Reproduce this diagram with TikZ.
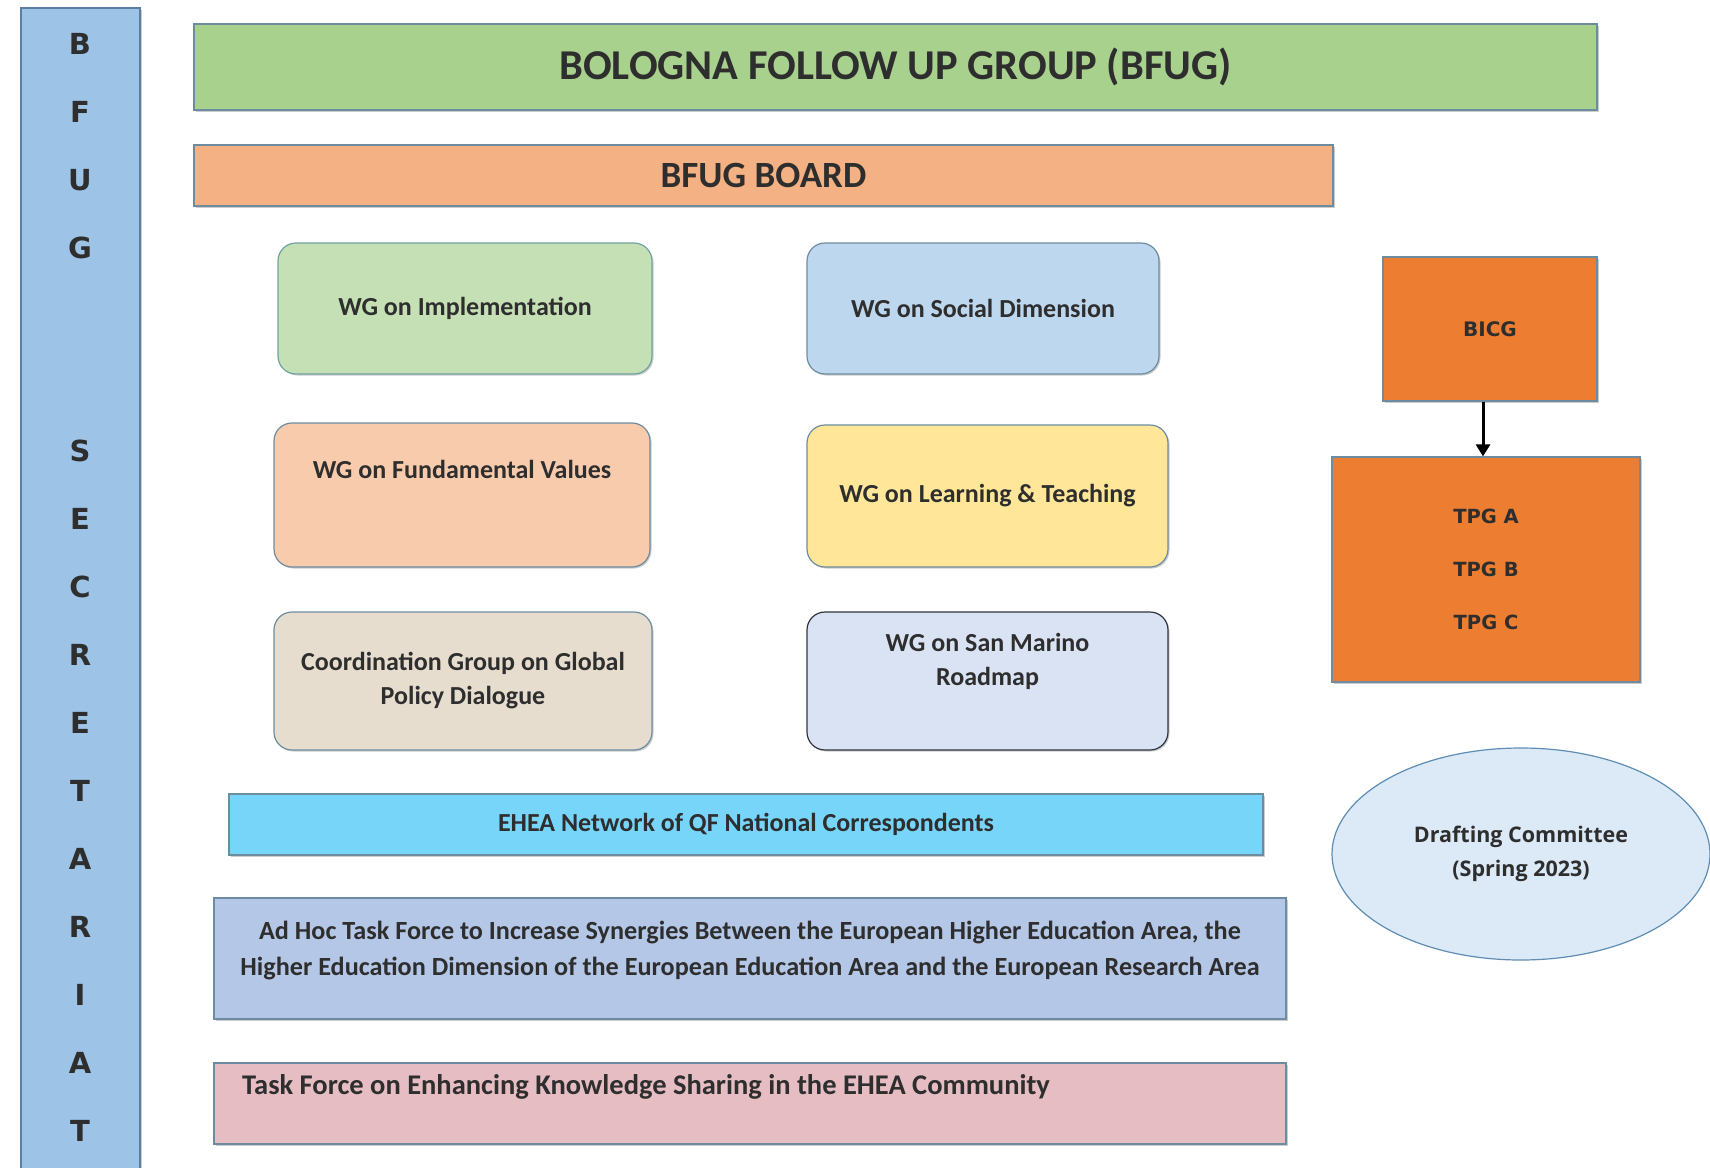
\documentclass[tikz,border=0pt]{standalone}
\usepackage{fontspec}
\setmainfont{Carlito}
\newfontfamily\verd{DejaVu Sans}
\newfontfamily\opens{Open Sans}
\usetikzlibrary{shadows,arrows.meta,shapes.geometric}
\definecolor{txt}{HTML}{2E2E2E}
\definecolor{secfill}{HTML}{9DC3E6}
\definecolor{secdraw}{HTML}{5A7FA3}
\definecolor{bfugfill}{HTML}{A9D18E}
\definecolor{boardfill}{HTML}{F4B183}
\definecolor{implfill}{HTML}{C5E0B4}
\definecolor{impldraw}{HTML}{6FA3A3}
\definecolor{socfill}{HTML}{BDD7EE}
\definecolor{fundfill}{HTML}{F8CBAD}
\definecolor{ltfill}{HTML}{FFE699}
\definecolor{coordfill}{HTML}{E6DDCF}
\definecolor{smfill}{HTML}{DAE3F3}
\definecolor{smdraw}{HTML}{2F3640}
\definecolor{orfill}{HTML}{ED7D31}
\definecolor{netfill}{HTML}{78D5FA}
\definecolor{adhocfill}{HTML}{B4C7E7}
\definecolor{tffill}{HTML}{E5BDC3}
\definecolor{draftfill}{HTML}{DCE9F6}
\definecolor{draftdraw}{HTML}{5E8DB5}
\definecolor{bdr}{HTML}{6E8CA0}
\tikzset{
  box/.style={draw=bdr, line width=1.2pt, text=txt, font=\bfseries, align=center,
    inner sep=0pt, drop shadow={shadow xshift=1.5pt, shadow yshift=-1.5pt, opacity=0.2, fill=black}},
  rbox/.style={box, rounded corners=18pt},
  lab/.style={text=txt, font=\bfseries, align=center, inner sep=0pt},
  secl/.style={text=txt, font=\verd\bfseries\fontsize{29}{29}\selectfont, inner sep=0pt},
  wgf/.style={font=\bfseries\fontsize{26}{34}\selectfont},
}
\begin{document}
\begin{tikzpicture}[x=1pt,y=-1pt]
\useasboundingbox[fill=white] (0,0) rectangle (1710,1167);
% secretariat bar
\node[box, fill=secfill, draw=secdraw, minimum width=119pt, minimum height=1172pt] (sec) at (80.5,594) {};
\foreach \ch [count=\i] in {B,F,U,G} {
  \node[secl] (s\i) at (80,{44+68*(\i-1)}) {\ch};
}
\foreach \ch [count=\i] in {S,E,C,R,E,T,A,R,I,A,T} {
  \node[secl] (t\i) at (80,{451+68*(\i-1)}) {\ch};
}
% top bars
\node[box, fill=bfugfill, minimum width=1403pt, minimum height=86pt, font=\bfseries\fontsize{42.5}{42.5}\selectfont] (bfug) at (895.5,67) {BOLOGNA FOLLOW UP GROUP (BFUG)};
\node[box, fill=boardfill, minimum width=1139pt, minimum height=61pt, font=\bfseries\fontsize{37}{37}\selectfont] (board) at (763.5,175.5) {BFUG BOARD};
% working groups
\node[rbox, fill=implfill, draw=impldraw, minimum width=374pt, minimum height=131pt, wgf] (impl) at (465,308.5) {WG on Implementation};
\node[rbox, fill=socfill, minimum width=352pt, minimum height=131pt, wgf] (soc) at (983,308.5) {WG on Social Dimension};
\node[rbox, fill=fundfill, minimum width=376pt, minimum height=144pt] (fund) at (462,495) {};
\node[lab, wgf] (fundt) at (462,469) {WG on Fundamental Values};
\node[rbox, fill=ltfill, minimum width=361pt, minimum height=142pt, wgf] (lt) at (987.5,496) {WG on Learning \& Teaching};
\node[rbox, fill=coordfill, minimum width=378pt, minimum height=138pt, wgf] (coord) at (463,681) {Coordination Group on Global\\Policy Dialogue};
\node[rbox, fill=smfill, draw=smdraw, minimum width=361pt, minimum height=138pt] (sm) at (987.5,681) {};
\node[lab, wgf] (smt) at (987.5,661.5) {WG on San Marino\\Roadmap};
% right column
\node[box, fill=orfill, minimum width=214pt, minimum height=144pt, font=\verd\bfseries\fontsize{20}{20}\selectfont] (bicg) at (1490,329) {BICG};
\node[box, fill=orfill, minimum width=308pt, minimum height=225pt, font=\verd\bfseries\fontsize{19.5}{53}\selectfont] (tpg) at (1486,569.5) {TPG A\\TPG B\\TPG C};
\coordinate (ax) at (1483,0);
\draw[line width=3pt, -{Triangle[length=12pt,width=14pt]}] (bicg.south -| ax) -- (tpg.north -| ax);
\node[ellipse, draw=draftdraw, line width=1.2pt, fill=draftfill, minimum width=378pt, minimum height=212pt, inner sep=0pt, text=txt, align=center, font=\opens\bfseries\fontsize{21.5}{34}\selectfont] (draft) at (1521,854) {Drafting Committee\\(Spring 2023)};
% bottom bars
\node[box, fill=netfill, minimum width=1034pt, minimum height=61pt, font=\bfseries\fontsize{26}{26}\selectfont] (net) at (746,824.5) {EHEA Network of QF National Correspondents};
\node[box, fill=adhocfill, minimum width=1072pt, minimum height=121pt] (adhoc) at (750,958.5) {};
\node[lab, font=\bfseries\fontsize{26.2}{36}\selectfont] (adhoct) at (750,950) {Ad Hoc Task Force to Increase Synergies Between the European Higher Education Area, the\\Higher Education Dimension of the European Education Area and the European Research Area};
\node[box, fill=tffill, minimum width=1072pt, minimum height=81pt] (tf) at (750,1103.5) {};
\node[lab, anchor=west, font=\bfseries\fontsize{28.5}{28.5}\selectfont] (tft) at (242,1087) {Task Force on Enhancing Knowledge Sharing in the EHEA Community};
\end{tikzpicture}
\end{document}
